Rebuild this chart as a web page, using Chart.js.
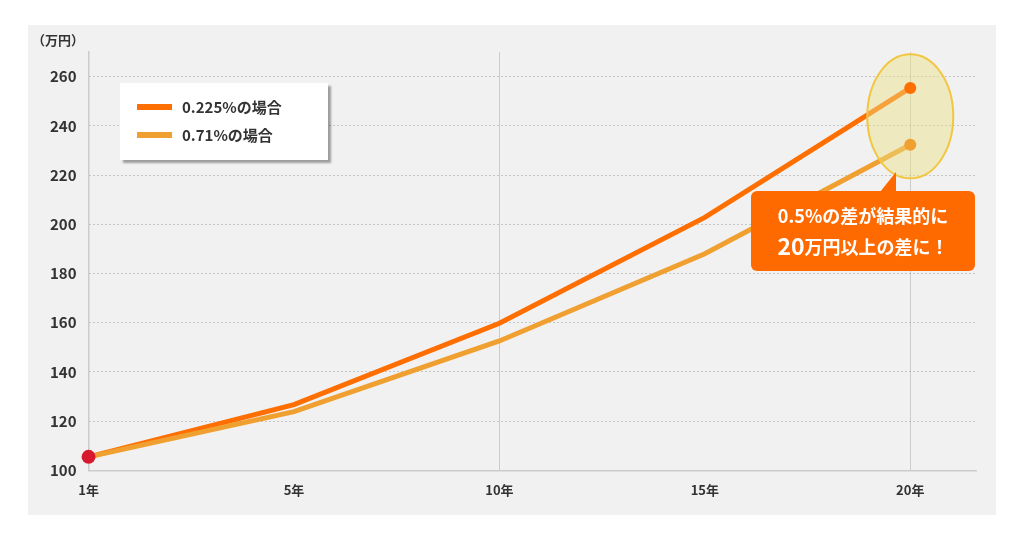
<!DOCTYPE html>
<html><head><meta charset="utf-8">
<script src="https://cdn.jsdelivr.net/npm/chart.js@4"></script>
<style>html,body{margin:0;background:#fff}</style>
</head><body><canvas id="c" width="1024" height="540"></canvas>
<script>
const years = ["1年", "5年", "10年", "15年", "20年"];
const rateLow = [105.5, 126.7, 159.8, 202.8, 255.4];   // 0.225%の場合
const rateHigh = [105.5, 123.9, 152.6, 188.0, 232.3];  // 0.71%の場合
const seriesNames = ["0.225%の場合", "0.71%の場合"];
const colors = ["#ff6e00", "#f0a030"];
const FONT = "'Noto Sans CJK JP', 'Noto Sans', sans-serif";

const toPts = arr => arr.map((v, i) => ({ x: i, y: v }));

// Background panel, legend box, ellipse and callout
const deco = {
  id: "deco",
  beforeDraw(chart) {
    const ctx = chart.ctx;
    ctx.save();
    ctx.fillStyle = "#f1f1f1";
    ctx.fillRect(28, 25, 968, 490);
    ctx.fillStyle = "#333";
    ctx.font = "bold 13px " + FONT;
    ctx.textAlign = "left";
    ctx.textBaseline = "middle";
    ctx.fillText("（万円）", 32, 40);
    ctx.restore();
  },
  afterDatasetsDraw(chart) {
    const ctx = chart.ctx, xs = chart.scales.x, ys = chart.scales.y;
    ctx.save();
    // ellipse around end points
    const cx = xs.getPixelForValue(4);
    const cy = (ys.getPixelForValue(rateLow[4]) + ys.getPixelForValue(rateHigh[4])) / 2;
    ctx.beginPath();
    ctx.ellipse(cx, cy, 43, 62, 0, 0, Math.PI * 2);
    ctx.fillStyle = "rgba(235,225,130,0.45)";
    ctx.fill();
    ctx.strokeStyle = "#f2c640";
    ctx.lineWidth = 2;
    ctx.stroke();
    // end points drawn on top
    [[rateLow, colors[0]], [rateHigh, colors[1]]].forEach(([arr, col]) => {
      ctx.beginPath();
      ctx.arc(cx, ys.getPixelForValue(arr[4]), 6, 0, Math.PI * 2);
      ctx.fillStyle = col;
      ctx.fill();
    });
    ctx.beginPath();
    ctx.arc(xs.getPixelForValue(0), ys.getPixelForValue(rateLow[0]), 7, 0, Math.PI * 2);
    ctx.fillStyle = "#d8182c";
    ctx.fill();

    // legend box
    ctx.shadowColor = "rgba(0,0,0,0.35)";
    ctx.shadowOffsetX = 3; ctx.shadowOffsetY = 3; ctx.shadowBlur = 2;
    ctx.fillStyle = "#fff";
    ctx.fillRect(120, 83, 208, 77);
    ctx.shadowColor = "transparent";
    ctx.font = "bold 15px " + FONT;
    ctx.textBaseline = "middle";
    seriesNames.forEach((n, i) => {
      const y = 107 + i * 28;
      ctx.fillStyle = colors[i];
      ctx.fillRect(137, y - 3, 35, 6);
      ctx.fillStyle = "#333";
      ctx.fillText(n, 182, y);
    });

    // callout
    ctx.fillStyle = "#ff6a00";
    ctx.beginPath();
    ctx.roundRect(751, 191, 224, 80, 6);
    ctx.fill();
    ctx.beginPath();
    ctx.moveTo(880, 192); ctx.lineTo(896, 172); ctx.lineTo(896, 192);
    ctx.fill();
    ctx.fillStyle = "#fff";
    ctx.textAlign = "center";
    ctx.font = "bold 18px " + FONT;
    ctx.fillText("0.5%の差が結果的に", 863, 216);
    ctx.font = "bold 23px " + FONT;
    const a = "20", b = "万円以上の差に！";
    const wa = ctx.measureText(a).width;
    ctx.font = "bold 18px " + FONT;
    const wb = ctx.measureText(b).width;
    const sx = 863 - (wa + wb) / 2;
    ctx.textAlign = "left";
    ctx.fillText(b, sx + wa, 247);
    ctx.font = "bold 23px " + FONT;
    ctx.fillText(a, sx, 246);
    ctx.restore();
  }
};

new Chart(document.getElementById("c"), {
  type: "line",
  data: {
    datasets: [
      { label: seriesNames[0], data: toPts(rateLow), borderColor: colors[0], borderWidth: 5, pointRadius: 0, tension: 0 },
      { label: seriesNames[1], data: toPts(rateHigh), borderColor: colors[1], borderWidth: 5, pointRadius: 0, tension: 0 }
    ].reverse()
  },
  options: {
    responsive: false,
    animation: false,
    layout: { padding: { left: 38, top: 52, right: 48, bottom: 30 } },
    plugins: { legend: { display: false }, tooltip: { enabled: false } },
    scales: {
      x: {
        type: "linear", min: 0, max: 4.32,
        afterBuildTicks: s => { s.ticks = [0, 1, 2, 3, 4].map(v => ({ value: v })); },
        ticks: { callback: v => years[v], color: "#333", font: { family: FONT, size: 13, weight: "bold" }, padding: 12, maxRotation: 0 },
        grid: { color: c => (c.index === 2 || c.index === 4) ? "#cccccc" : "transparent", drawTicks: false },
        border: { color: "#cccccc", width: 1.5 }
      },
      y: {
        min: 100, max: 270,
        afterBuildTicks: s => { s.ticks = [100, 120, 140, 160, 180, 200, 220, 240, 260].map(v => ({ value: v })); },
        ticks: { color: "#333", font: { family: FONT, size: 15, weight: "bold" }, padding: 12 },
        grid: { color: c => c.tick.value === 100 ? "transparent" : "#9a9a9a", lineWidth: 1, drawTicks: false },
        border: { color: "#cccccc", width: 1.5, dash: [1, 3] }
      }
    }
  },
  plugins: [deco]
});
</script>
</body></html>
